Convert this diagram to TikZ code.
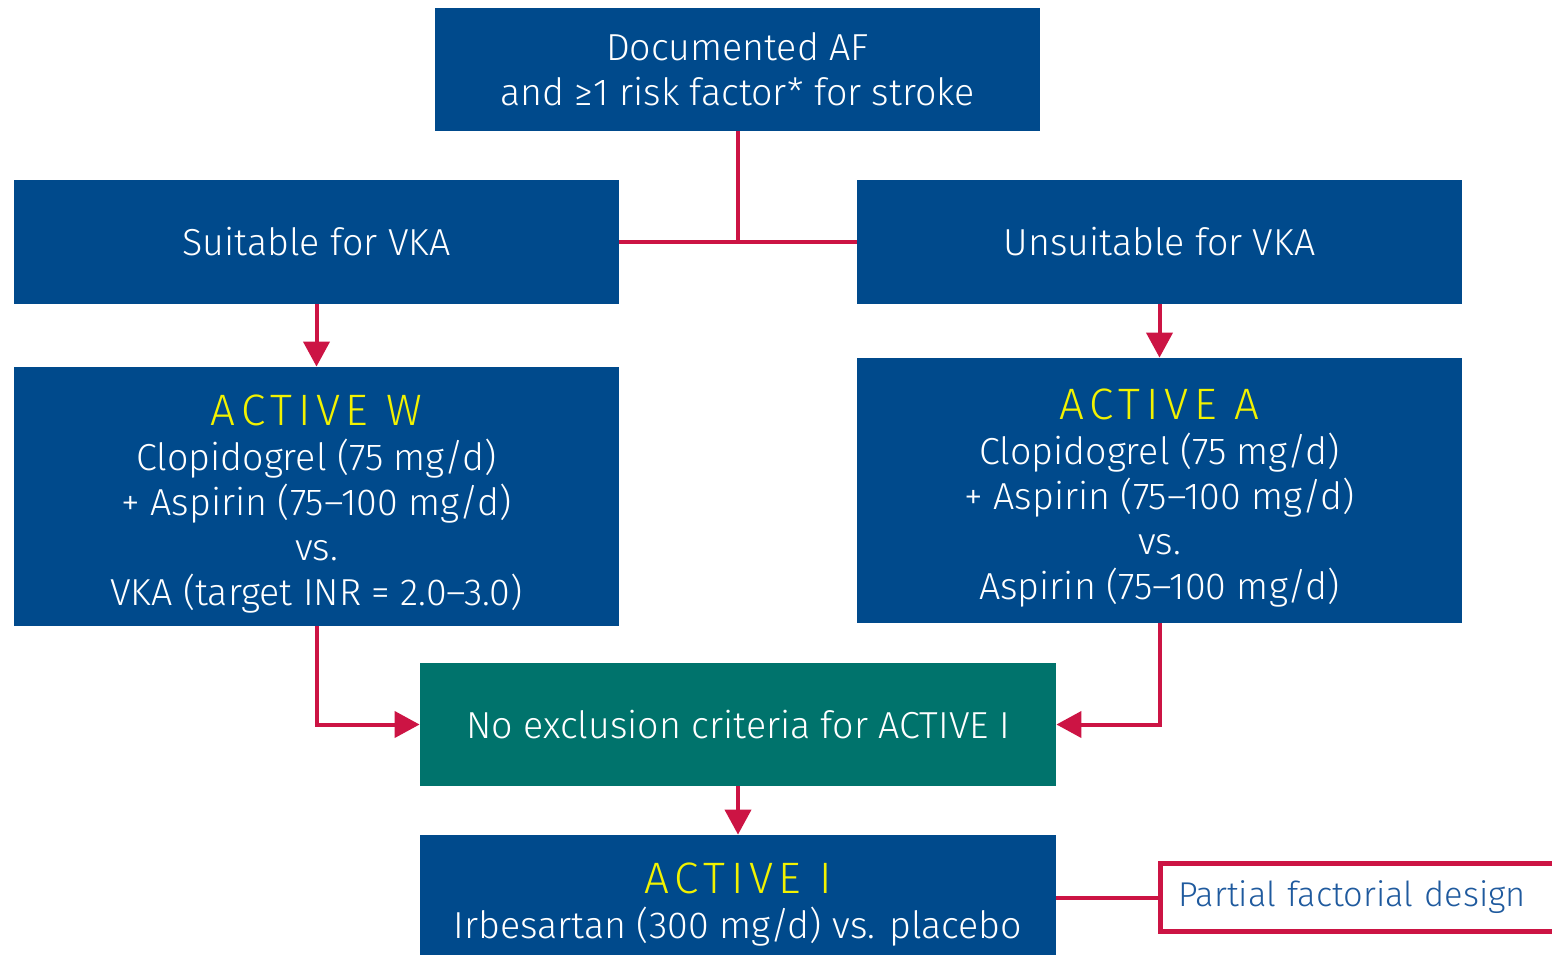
\documentclass[tikz,border=0pt]{standalone}
\usepackage{fontspec}
\setmainfont{Fira Sans Light}
\usetikzlibrary{arrows.meta}
\definecolor{navy}{HTML}{004A8C}
\definecolor{tealc}{HTML}{00736C}
\definecolor{redc}{HTML}{CC1444}
\definecolor{yel}{HTML}{F2F200}
\definecolor{txtblue}{HTML}{1F5A9E}
\newcommand{\ttl}[1]{{\rule{0pt}{22.5pt}\color{yel}\fontsize{22}{24}\selectfont\addfontfeatures{LetterSpace=13}#1}}
\begin{document}
\begin{tikzpicture}[x=0.5pt,y=-0.5pt,
  box/.style={fill=navy, text=white, inner sep=0pt, align=center,
    font=\fontsize{18.8}{22.5}\selectfont},
  conn/.style={draw=redc, line width=2pt},
  arr/.style={conn, -{Triangle[width=13pt,length=12.5pt]}},
]
\useasboundingbox (0,0) rectangle (1552,954);
\fill[white] (0,0) rectangle (1552,954);

\node[box, minimum width=302.5pt, minimum height=61.5pt] (top) at (737.5,69.5)
  {Documented AF\\and ≥1 risk factor* for stroke};
\node[box, minimum width=302.5pt, minimum height=62pt] (suit) at (316.5,242)
  {Suitable for VKA};
\node[box, minimum width=302.5pt, minimum height=62pt] (unsuit) at (1159.5,242)
  {Unsuitable for VKA};
\node[box, minimum width=302.5pt, minimum height=129.5pt] (aw) at (316.5,496.5)
  {\ttl{ACTIVE W}\\Clopidogrel (75 mg/d)\\+ Aspirin (75–100 mg/d)\\vs.\\VKA (target INR = 2.0–3.0)};
\node[box, minimum width=302.5pt, minimum height=132.5pt] (aa) at (1159.5,490.5)
  {\ttl{ACTIVE A}\\Clopidogrel (75 mg/d)\\+ Aspirin (75–100 mg/d)\\vs.\\Aspirin (75–100 mg/d)};
\node[box, fill=tealc, minimum width=318pt, minimum height=61.5pt] (noex) at (738,724.5)
  {No exclusion criteria for ACTIVE I};
\node[box, minimum width=318pt, minimum height=62.5pt] (ai) at (738,897.5)
  {\ttl{ACTIVE I}\\Irbesartan (300 mg/d) vs. placebo};
\node[draw=redc, line width=2.75pt, fill=white, text=txtblue, anchor=west,
  inner xsep=9pt, inner ysep=0pt, text width=205pt, align=left,
  minimum height=34pt, font=\fontsize{17.2}{22.5}\selectfont] (pfd) at (1157.5,897.5)
  {Partial factorial design};

\draw[conn] (top.south) -- (top.south |- suit.east);
\draw[conn] (suit.east) -- (unsuit.west);
\draw[arr] (suit.south) -- (aw.north);
\draw[arr] (unsuit.south) -- (aa.north);
\draw[arr] (aw.south) |- (noex.west);
\draw[arr] (aa.south) |- (noex.east);
\draw[arr] (noex.south) -- (ai.north);
\draw[conn] (ai.east) -- (pfd.west);
\end{tikzpicture}
\end{document}
